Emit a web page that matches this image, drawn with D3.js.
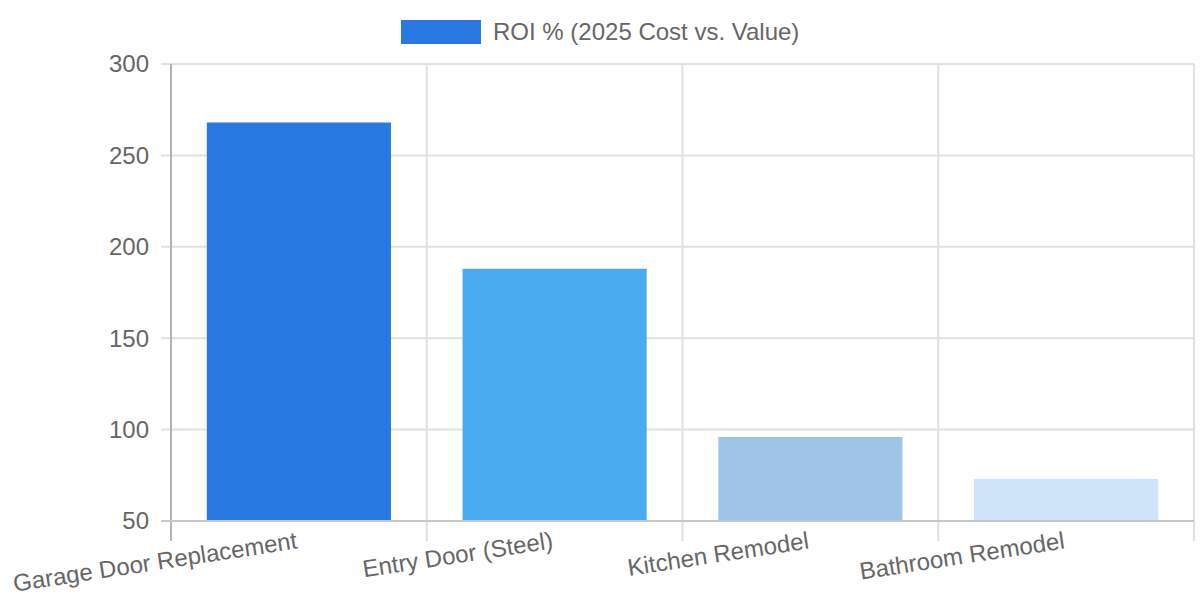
<!DOCTYPE html>
<html><head><meta charset="utf-8">
<script src="https://cdn.jsdelivr.net/npm/d3@7"></script>
<style>body{margin:0;background:#fff}svg{display:block}text{font-family:"Liberation Sans",Arial,sans-serif;fill:#666}</style>
</head><body><svg id="c" width="1200" height="600"></svg>
<script>
const categories = ["Garage Door Replacement","Entry Door (Steel)","Kitchen Remodel","Bathroom Remodel"];
const roiValues = [268, 188, 96, 73];
const barColors = ["#2979e2","#4aabf0","#a0c4e8","#cfe4f8"];
const yTicks = [50,100,150,200,250,300];
const seriesLabel = "ROI % (2025 Cost vs. Value)";

const svg = d3.select("#c");
const L = 171, R = 1194, T = 64, B = 521;
const x = d3.scaleBand().domain(categories).range([L, R]).paddingInner(0).paddingOuter(0);
const y = d3.scaleLinear().domain([50, 300]).range([B, T]);
const grid = "#e1e1e1";

// horizontal grid
svg.append("g").selectAll("line").data(yTicks).join("line")
  .attr("x1", L - 10).attr("x2", R).attr("y1", d => y(d)).attr("y2", d => y(d))
  .attr("stroke", grid).attr("stroke-width", 2);
// vertical grid (category boundaries)
const bounds = categories.map(c => x(c)).concat([R]);
svg.append("g").selectAll("line").data(bounds).join("line")
  .attr("x1", d => d).attr("x2", d => d).attr("y1", T).attr("y2", B + 20)
  .attr("stroke", grid).attr("stroke-width", 2);

// bars
const bw = x.bandwidth() * 0.72;
svg.append("g").selectAll("rect").data(categories).join("rect")
  .attr("x", d => x(d) + (x.bandwidth() - bw) / 2)
  .attr("width", bw)
  .attr("y", (d, i) => y(roiValues[i]))
  .attr("height", (d, i) => y(50) - y(roiValues[i]))
  .attr("fill", (d, i) => barColors[i]);

// axes lines
svg.append("line").attr("x1", L).attr("x2", L).attr("y1", T).attr("y2", B + 20).attr("stroke", "#b3b3b3").attr("stroke-width", 2);
svg.append("line").attr("x1", L - 10).attr("x2", R).attr("y1", B).attr("y2", B).attr("stroke", "#c8c8c8").attr("stroke-width", 2);

// y labels
svg.append("g").selectAll("text").data(yTicks).join("text")
  .attr("x", L - 22).attr("y", d => y(d)).attr("dy", "0.35em")
  .attr("text-anchor", "end").attr("font-size", 24).text(d => d);

// x labels rotated
svg.append("g").selectAll("text").data(categories).join("text")
  .attr("transform", d => `translate(${x(d) + x.bandwidth() / 2 - 2},${B + 19}) rotate(-8.7)`)
  .attr("text-anchor", "end").attr("dy", "0.35em").attr("font-size", 24).text(d => d);

// legend
svg.append("rect").attr("x", 401).attr("y", 20).attr("width", 80).attr("height", 24).attr("fill", barColors[0]);
svg.append("text").attr("x", 493).attr("y", 32).attr("dy", "0.35em").attr("font-size", 24).text(seriesLabel);
</script></body></html>
